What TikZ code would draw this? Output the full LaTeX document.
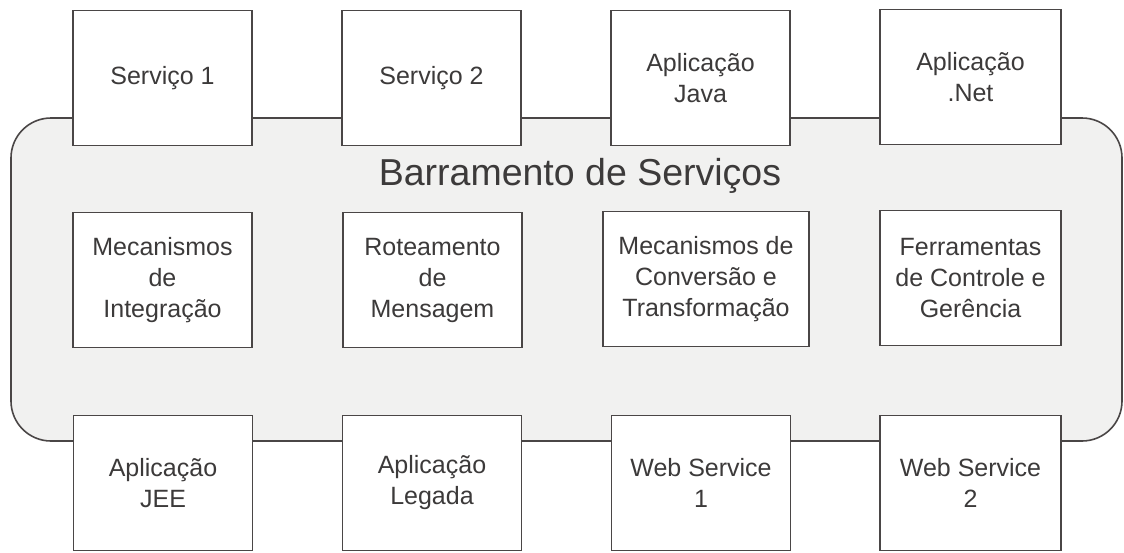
\documentclass[tikz,border=0pt]{standalone}
\usepackage{fontspec}
\setmainfont{Liberation Sans}
\definecolor{linec}{HTML}{4A4646}
\definecolor{textc}{HTML}{3C3A3A}
\definecolor{busfill}{HTML}{F1F1F0}
\begin{document}
\begin{tikzpicture}[x=1pt,y=-1pt,
  box/.style={draw=linec, line width=1.6pt, fill=white, text=textc,
    minimum width=179pt, minimum height=135pt, inner sep=0pt, align=center,
    font=\fontsize{25}{31}\selectfont},
  bus/.style={draw=linec, line width=1.6pt, fill=busfill, rounded corners=40pt}]
\useasboundingbox (0,0) rectangle (1124,552);
\fill[white] (0,0) rectangle (1124,552);
% bus
\draw[bus] (11,118) rectangle (1122,441);
\node[text=textc, font=\fontsize{37.5}{40}\selectfont, anchor=base] (title) at (580,185) {Barramento de Serviços};
% top row
\node[box] (s1) at (162.5,78) {Serviço 1};
\node[box] (s2) at (431.5,78) {Serviço 2};
\node[box] (aj) at (700.5,78) {Aplicação\\Java};
\node[box, minimum width=181pt] (an) at (970.5,77) {Aplicação\\.Net};
% middle row
\node[box] (m1) at (162.5,280) {Mecanismos\\de\\Integração};
\node[box] (m2) at (432.5,280) {Roteamento\\de\\Mensagem};
\node[box, minimum width=206pt] (m3) at (706,279) {Mecanismos de\\Conversão e\\Transformação};
\node[box, minimum width=181pt] (m4) at (970.5,278) {Ferramentas\\de Controle e\\Gerência};
% bottom row
\node[box] (b1) at (163,483) {Aplicação\\JEE};
\node[box] (b2) at (432,483) {Aplicação\\Legada};
\node[box] (b3) at (701,483) {Web Service\\1};
\node[box, minimum width=181pt] (b4) at (970.5,483) {Web Service\\2};
\end{tikzpicture}
\end{document}
